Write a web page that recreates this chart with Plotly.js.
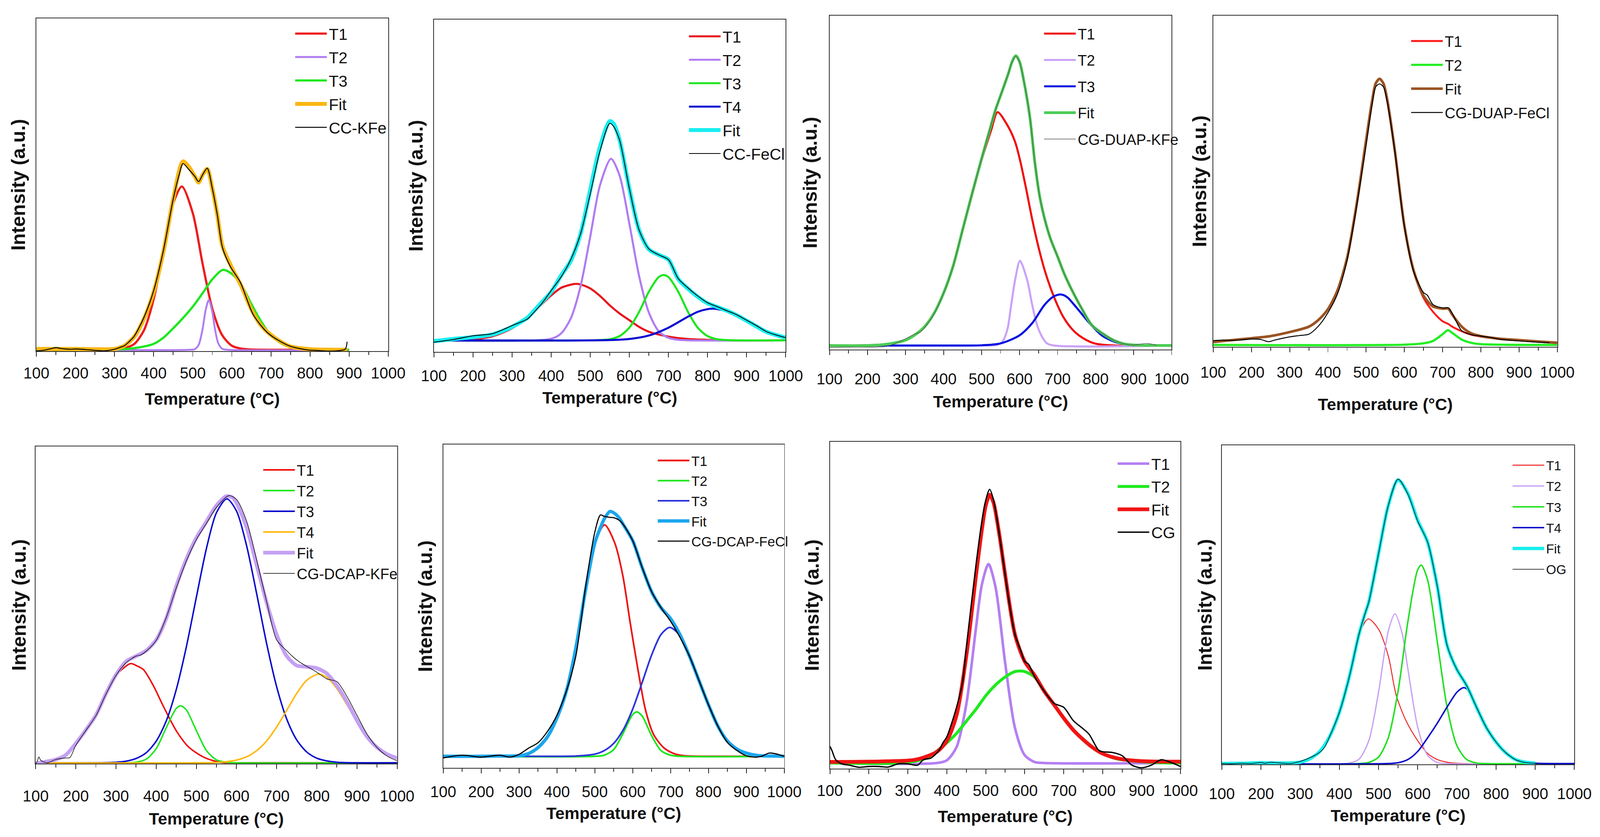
<!DOCTYPE html>
<html><head><meta charset="utf-8">
<script src="https://cdn.plot.ly/plotly-3.0.1.min.js"></script>
<style>html,body{margin:0;padding:0;background:#fff;overflow:hidden}#chart{position:absolute;left:0;top:0}</style>
</head><body><div id="chart"></div>
<script>
// ---------------- DATA (temperature in °C, intensity in arbitrary units) ----------------
const xTicks = [100,200,300,400,500,600,700,800,900,1000];
const xTickText = ['100','200','300','400','500','600','700','800','900','1000'];

// Panel 1: CC-KFe
const p1_x_data = [100,112,125,137,150,162,175,187,200,225,250,275,300,312,325,337,350,375,400,425,450,465,475,490,505,515,525,537,550,563,576,596,622,655,694,746,792,825,850,875,890,895];
const p1_data   = [-4,-3,0,4,8,5,3,2,3,1,-2,-4,2,8,15,30,50,120,220,370,560,650,692,670,645,625,650,675,600,500,380,310,250,130,60,15,0,-3,-5,-3,2,30];
const p1_x_fit  = [100,150,200,250,300,325,350,375,400,425,450,475,490,505,515,525,537,550,563,576,600,625,650,675,700,725,750,800,850,895];
const p1_fit    = [3,3,3,2,3,15,48,115,215,365,560,700,680,645,622,650,672,600,500,385,305,235,150,90,55,30,12,2,0,0];
const p1_x_t1   = [100,300,325,350,375,400,425,450,472,500,525,550,575,600,625,650,700,900];
const p1_t1     = [0,2,6,21,72,188,368,544,607,508,321,153,55,15,4,1,0,0];
const p1_x_t2   = [100,490,505,515,525,533,541,549,557,565,575,590,900];
const p1_t2     = [0,0,2,18,76,148,185,148,76,25,4,0,0];
const p1_x_t3   = [100,300,350,400,425,450,475,500,525,550,577,600,625,650,675,700,725,750,800,900];
const p1_t3     = [0,1,6,22,45,80,118,160,210,262,297,282,240,170,105,55,25,10,1,0];

// Panel 2: CC-FeCl
const p2_x      = [100,150,200,250,300,340,350,375,400,425,450,475,500,525,550,560,575,600,625,650,675,700,725,750,775,800,825,850,875,900,925,950,975,1000];
const p2_data   = [-7,3,17,25,55,80,95,135,185,235,300,395,545,705,807,795,745,565,410,340,318,300,230,195,165,140,125,110,95,75,55,33,20,10];
const p2_fit    = [-3,5,12,22,50,85,100,140,180,240,295,395,560,720,815,805,745,565,410,338,318,300,228,192,162,138,124,110,93,73,52,32,20,10];
const p2_x_t1   = [100,200,250,300,350,400,425,450,462,475,500,525,550,575,600,625,650,700,750,800,850,1000];
const p2_t1     = [0,4,15,45,100,167,195,207,210,208,193,165,130,100,75,50,32,14,5,2,0,0];
const p2_x_t2   = [100,400,425,450,475,500,525,553,575,600,625,650,675,700,725,750,1000];
const p2_t2     = [0,6,25,81,200,386,577,675,613,434,239,103,34,9,2,0,0];
const p2_x_t3   = [100,525,550,575,600,625,650,675,688,700,725,750,775,800,825,850,875,1000];
const p2_t3     = [0,1,4,16,47,106,181,235,243,235,181,106,47,16,4,1,0,0];
const p2_x_t4   = [100,550,600,650,700,750,775,800,815,850,875,900,925,950,975,1000];
const p2_t4     = [0,1,5,18,47,88,106,116,118,108,92,72,51,33,20,11];

// Panel 3: CG-DUAP-KFe
const p3_x_fit  = [100,200,250,300,325,350,375,400,425,450,475,500,525,535,550,570,580,590,600,611,627,640,653,666,682,699,718,738,764,790,823,850,875,900,1000];
const p3_fit    = [0,0,5,20,40,70,120,195,295,430,565,695,820,870,930,1010,1055,1078,1055,985,849,682,553,470,394,334,265,205,136,76,40,18,6,2,0];
const p3_x_data = [100,150,200,250,280,300,320,340,360,375,400,425,450,475,500,525,535,550,570,580,590,600,611,627,640,653,666,682,699,718,738,764,790,823,850,875,900,935,960];
const p3_data   = [-7,-6,-6,-3,12,25,40,52,85,118,195,295,430,565,695,820,870,930,1010,1053,1076,1053,985,849,682,553,470,394,334,265,205,136,76,40,18,6,2,8,1];
const p3_x_t1   = [100,250,300,350,375,400,425,450,475,500,525,542,568,588,601,617,633,650,666,682,699,715,738,764,797,850,1000];
const p3_t1     = [0,5,20,70,120,195,295,430,560,690,800,868,819,758,690,584,470,364,280,212,152,106,61,30,8,0,0];
const p3_x_t2   = [100,500,540,555,568,578,588,601,620,633,646,660,672,690,1000];
const p3_t2     = [0,0,2,15,61,152,243,315,243,152,76,30,8,0,0];
const p3_x_t3   = [100,450,500,550,600,633,666,690,708,725,748,784,816,850,875,900,1000];
const p3_t3     = [0,0,1,8,38,83,152,183,190,180,144,83,38,14,5,1,0];

// Panel 4: CG-DUAP-FeCl
const p4_x      = [100,150,200,250,300,350,375,400,425,450,475,500,515,525,535,545,555,575,600,625,650,675,700,715,725,750,775,800,850,900,950,1000];
const p4_fit    = [11,18,25,33,48,68,93,133,203,323,523,763,903,973,990,973,913,723,443,273,183,143,135,135,113,68,43,33,23,18,13,8];
const p4_t1     = [11,18,25,33,48,68,93,133,203,323,523,763,903,973,990,973,913,723,442,270,175,123,88,78,68,51,38,31,22,17,12,8];
const p4_x_t2   = [100,600,650,675,700,714,725,750,775,800,850,900,1000];
const p4_t2     = [0,1,6,15,40,55,45,20,8,3,1,0,0];
const p4_x_data = [100,125,150,175,200,225,245,260,300,325,350,375,400,425,450,475,500,515,525,535,545,555,575,600,625,650,660,675,700,715,725,750,775,800,825,850,900,950,980];
const p4_data   = [16,18,17,19,22,20,12,18,30,35,40,70,120,190,315,515,745,890,960,971,960,905,720,440,270,195,185,150,138,138,118,53,38,33,28,21,15,10,8];

// Panel 5: CG-DCAP-KFe
const p5_x      = [100,125,150,175,200,225,250,275,300,325,350,375,400,425,450,475,500,525,550,575,590,600,625,650,675,700,725,750,775,800,825,850,875,900,925,950,975,1000];
const p5_fit    = [-3,4,12,29,72,122,177,257,327,377,397,417,457,537,657,757,837,897,957,992,987,967,877,737,597,477,397,362,357,352,332,287,227,157,97,57,32,17];
const p5_x_data = [100,104,108,112,120,130,150,175,185,200,225,250,275,300,325,350,360,375,400,425,450,475,500,525,550,581,600,625,650,675,700,725,740,760,800,825,850,875,900,925,950,975,1000];
const p5_data   = [-3,5,22,10,3,0,12,18,19,65,120,175,255,325,372,397,400,415,455,540,650,750,830,890,950,994,980,900,757,600,457,417,395,372,337,312,302,247,177,107,57,25,7];
const p5_x_t1   = [100,125,150,175,200,225,250,275,300,336,350,368,393,419,451,482,521,559,600,1000];
const p5_t1     = [1,3,10,28,70,120,175,255,325,369,362,347,287,207,117,57,19,2,0,0];
const p5_x_t2   = [100,325,350,375,400,425,450,461,475,500,525,550,575,600,1000];
const p5_t2     = [0,0,2,13,52,130,202,212,197,120,46,11,2,0,0];
const p5_x_t3   = [100,250,300,325,350,375,400,425,450,475,500,525,550,576,600,625,650,675,700,725,750,775,800,825,850,900,1000];
const p5_t3     = [0,0,2,6,16,37,80,155,272,430,615,796,930,982,937,809,631,444,283,163,85,40,17,7,2,0,0];
const p5_x_t4   = [100,550,575,600,625,650,675,700,725,750,775,804,825,850,875,900,925,950,975,1000];
const p5_t4     = [0,1,4,10,22,45,81,133,195,258,307,330,318,276,216,152,96,55,28,13];

// Panel 6: CG-DCAP-FeCl
const p6_x      = [100,150,200,250,275,300,325,350,375,400,425,450,475,500,515,525,540,550,565,575,600,625,650,675,700,725,750,775,800,825,850,875,900,925,940,960,975,1000];
const p6_data   = [-6,4,-3,4,-3,7,30,50,92,152,242,372,622,832,897,892,888,887,877,862,802,702,612,552,502,442,372,282,192,112,52,22,2,-3,0,12,10,0];
const p6_fit    = [0,0,0,1,1,2,10,32,72,142,242,402,612,792,850,882,910,905,885,862,802,702,612,552,512,452,372,282,192,112,57,27,12,4,2,1,1,0];
const p6_x_t1   = [100,250,300,325,350,375,400,425,450,475,500,526,553,574,594,614,634,655,682,709,736,800,1000];
const p6_t1     = [0,0,2,10,30,70,140,240,400,610,790,860,792,672,492,322,172,82,32,10,2,0,0];
const p6_x_t2   = [100,500,525,550,575,600,611,625,650,675,700,725,1000];
const p6_t2     = [0,0,4,25,86,155,165,150,77,21,4,0,0];
const p6_x_t3   = [100,400,450,500,525,550,575,600,625,650,675,698,725,750,775,800,825,850,875,900,925,950,1000];
const p6_t3     = [0,0,1,8,21,48,98,175,274,376,453,479,449,377,283,190,114,61,30,13,5,2,0];

// Panel 7: CG
const p7_x_fit  = [100,200,300,325,350,375,400,425,450,475,490,500,510,520,535,550,575,600,625,650,675,700,725,750,775,800,825,850,900,1000];
const p7_fit    = [4,5,9,14,25,42,82,177,397,697,867,957,997,967,847,697,477,377,327,267,217,167,122,87,57,35,22,14,7,5];
const p7_x_data = [100,105,115,130,150,175,200,225,250,275,300,325,340,360,380,390,400,410,425,440,450,475,490,500,510,520,535,550,560,575,590,600,610,625,650,675,700,725,750,765,790,800,825,850,875,900,925,950,975,1000];
const p7_data   = [62,47,12,-3,-8,-16,-13,-13,-15,-3,-3,-8,12,19,47,75,97,137,207,297,427,737,897,977,1017,977,847,697,597,477,417,377,367,322,267,222,207,157,127,107,47,42,39,27,-8,-18,-8,12,2,-13];
const p7_x_t1   = [100,375,400,425,450,475,490,507,525,550,575,600,625,650,1000];
const p7_t1     = [0,0,10,59,218,503,663,739,654,369,130,29,4,0,0];
const p7_x_t2   = [100,300,350,375,400,425,450,475,500,525,550,575,588,600,625,650,675,700,725,750,775,800,825,850,900,950,1000];
const p7_t2     = [0,2,20,45,75,110,155,200,250,290,320,340,342,340,320,267,217,167,122,87,57,35,20,12,5,1,0];

// Panel 8: OG
const p8_x_fit  = [100,150,200,250,300,325,350,375,400,425,450,465,475,500,525,550,575,600,625,650,675,700,725,750,775,800,825,850,875,900];
const p8_fit    = [0,1,3,2,5,18,45,100,190,320,480,555,600,780,960,1055,1005,905,825,660,440,350,290,210,135,80,40,15,5,2];
const p8_x_data = [100,125,150,175,200,210,225,250,275,300,312,325,337,350,362,375,400,425,450,465,475,500,525,550,575,600,625,650,675,700,725,750,775,800,825,850,862,875,887,900,905];
const p8_data   = [0,-1,1,0,4,1,5,2,0,8,14,22,30,42,60,100,190,320,480,555,600,780,960,1058,1002,902,825,660,440,350,290,210,135,80,40,14,8,4,2,1,0];
const p8_x_t1   = [100,300,325,350,375,400,425,450,474,500,525,545,570,600,625,650,675,700,1000];
const p8_t1     = [0,5,18,45,100,190,320,480,538,500,400,255,160,85,38,15,5,1,0];
const p8_x_t2   = [100,425,450,475,500,525,542,560,575,600,625,650,675,1000];
const p8_t2     = [0,2,16,84,265,493,557,486,352,136,31,4,0,0];
const p8_x_t3   = [100,450,475,500,525,550,575,600,609,625,650,675,700,725,750,775,1000];
const p8_t3     = [0,0,4,24,96,270,528,721,738,685,454,210,67,15,2,0,0];
const p8_x_t4   = [100,525,550,575,600,625,650,675,700,716,725,750,775,800,825,850,875,900,1000];
const p8_t4     = [0,0,3,15,45,95,150,210,265,282,278,215,140,80,40,15,5,1,0];

// ---------------- LAYOUT / STYLE ----------------
// reference frame is 4307 x 2143; everything is scaled to the real viewport
const RW = 4307, RH = 2143;
const VW = window.innerWidth || RW, VH = window.innerHeight || RH;
const sx = VW / RW, sy = VH / RH, S = Math.min(sx, sy), FS = Math.sqrt(sx * sy);
const FONT = 'Liberation Sans, Arial, Helvetica, sans-serif';
document.getElementById('chart').style.width = VW + 'px';
document.getElementById('chart').style.height = VH + 'px';

// plot-area boxes in reference pixels: [left, right, top, bottom]
const panels = [
  {box:[98,1045,47,899],     yr:[-5,1232],  tickStand:8,  titleStand:30, yStand:11, legend:{text:885,  row:86,   size:42, step:60}},
  {box:[1168,2115,50,901],   yr:[-43,1193], tickStand:13, titleStand:20, yStand:11, legend:{text:1945, row:93,   size:42, step:60}},
  {box:[2233,3154,40,895],   yr:[-15,1227], tickStand:27, titleStand:22, yStand:15, legend:{text:2901, row:86,   size:39, step:67.5}},
  {box:[3266,4192,40,888],   yr:[-7,1225],  tickStand:17, titleStand:46, yStand:0,  legend:{text:3889, row:105,  size:39, step:61}},
  {box:[96,1069,1143,1955],  yr:[-3,1177],  tickStand:35, titleStand:22, yStand:7,  legend:{text:799,  row:1203, size:39, step:53}},
  {box:[1193,2111,1138,1966],yr:[-43,1159], tickStand:13, titleStand:19, yStand:11, legend:{text:1861, row:1179, size:36, step:51.6}},
  {box:[2234,3178,1131,1968],yr:[-21,1194], tickStand:8,  titleStand:30, yStand:11, legend:{text:3099, row:1187, size:42, step:58.5}},
  {box:[3289,4238,1140,1957],yr:[-3,1184],  tickStand:27, titleStand:20, yStand:8,  legend:{text:4162, row:1191, size:34, step:53.3}}
];

const ITEMW = Math.max(30, Math.round(85 * sx));
const traces = [];
function add(p, x, y, name, color, width) {
  const i = p + 1;
  traces.push({
    type: 'scatter', mode: 'lines', x: x, y: y, name: name,
    xaxis: i === 1 ? 'x' : 'x' + i, yaxis: i === 1 ? 'y' : 'y' + i,
    legend: i === 1 ? 'legend' : 'legend' + i, legendgroup: 'g' + i + name,
    line: {color: color, width: width * S, shape: 'spline', smoothing: 0.8},
    hoverinfo: 'skip'
  });
}

// Panel 1
add(0, p1_x_t1, p1_t1, 'T1', '#ee1c1c', 6);
add(0, p1_x_t2, p1_t2, 'T2', '#b07cf2', 5);
add(0, p1_x_t3, p1_t3, 'T3', '#1ee61e', 6);
add(0, p1_x_fit, p1_fit, 'Fit', '#fbb714', 11);
add(0, p1_x_data, p1_data, 'CC-KFe', '#000000', 2.5);
// Panel 2
add(1, p2_x_t1, p2_t1, 'T1', '#e8141c', 5.5);
add(1, p2_x_t2, p2_t2, 'T2', '#b07cf2', 5.5);
add(1, p2_x_t3, p2_t3, 'T3', '#1ee61e', 5.5);
add(1, p2_x_t4, p2_t4, 'T4', '#0a0ad2', 5.5);
add(1, p2_x, p2_fit, 'Fit', '#18eef2', 11);
add(1, p2_x, p2_data, 'CC-FeCl', '#000000', 2.2);
// Panel 3
add(2, p3_x_t1, p3_t1, 'T1', '#f00a0a', 5.5);
add(2, p3_x_t2, p3_t2, 'T2', '#caa2f8', 5.5);
add(2, p3_x_t3, p3_t3, 'T3', '#0010e0', 5.5);
add(2, p3_x_fit, p3_fit, 'Fit', '#4ccc55', 7.5);
add(2, p3_x_data, p3_data, 'CG-DUAP-KFe', '#555555', 1.5);
// Panel 4
add(3, p4_x, p4_t1, 'T1', '#ff1a1a', 5);
add(3, p4_x_t2, p4_t2, 'T2', '#22ee22', 6);
add(3, p4_x, p4_fit, 'Fit', '#9a5322', 7);
add(3, p4_x_data, p4_data, 'CG-DUAP-FeCl', '#000000', 2.5);
// Panel 5
add(4, p5_x_t1, p5_t1, 'T1', '#ee0a0a', 4);
add(4, p5_x_t2, p5_t2, 'T2', '#1ee61e', 4);
add(4, p5_x_t3, p5_t3, 'T3', '#0a0acc', 4);
add(4, p5_x_t4, p5_t4, 'T4', '#ffb808', 4);
add(4, p5_x, p5_fit, 'Fit', '#c4a0f4', 10);
add(4, p5_x_data, p5_data, 'CG-DCAP-KFe', '#000000', 1.5);
// Panel 6
add(5, p6_x_t1, p6_t1, 'T1', '#ee1212', 4.5);
add(5, p6_x_t2, p6_t2, 'T2', '#1ee61e', 4.5);
add(5, p6_x_t3, p6_t3, 'T3', '#2c35dc', 4.5);
add(5, p6_x, p6_fit, 'Fit', '#1aa6ee', 9);
add(5, p6_x, p6_data, 'CG-DCAP-FeCl', '#000000', 3);
// Panel 7
add(6, p7_x_t1, p7_t1, 'T1', '#b47ff2', 7);
add(6, p7_x_t2, p7_t2, 'T2', '#1eea1e', 8);
add(6, p7_x_fit, p7_fit, 'Fit', '#f01414', 10);
add(6, p7_x_data, p7_data, 'CG', '#000000', 3.5);
// Panel 8
add(7, p8_x_t1, p8_t1, 'T1', '#ee1c1c', 2.5);
add(7, p8_x_t2, p8_t2, 'T2', '#c8a2f4', 3.5);
add(7, p8_x_t3, p8_t3, 'T3', '#1ee11e', 4);
add(7, p8_x_t4, p8_t4, 'T4', '#0a0ac8', 4);
add(7, p8_x_fit, p8_fit, 'Fit', '#18eeee', 9);
add(7, p8_x_data, p8_data, 'OG', '#000000', 1.6);

const layout = {
  width: VW, height: VH, margin: {l:0, r:0, t:0, b:0},
  paper_bgcolor: '#ffffff', plot_bgcolor: '#ffffff',
  font: {family: FONT, color: '#111111'},
  showlegend: true
};

panels.forEach((p, k) => {
  const i = k + 1;
  const xs = i === 1 ? '' : String(i);
  const [l, r, t, b] = p.box;
  layout['xaxis' + xs] = {
    domain: [l / RW, r / RW], anchor: 'y' + xs,
    range: [100, 1000], tickmode: 'array', tickvals: xTicks, ticktext: xTickText,
    ticks: 'outside', ticklen: 12 * sy, tickwidth: 2 * S, tickcolor: '#222',
    ticklabelstandoff: p.tickStand * sy,
    minor: {tickmode: 'linear', tick0: 150, dtick: 100, ticks: 'outside', ticklen: 8 * sy, tickwidth: 2 * S, tickcolor: '#222', showgrid: false},
    showline: true, linecolor: '#2a2a2a', linewidth: 2 * S, mirror: true,
    showgrid: false, zeroline: false, fixedrange: true,
    tickfont: {family: FONT, size: 41 * FS, color: '#111'},
    title: {text: 'Temperature (°C)', standoff: p.titleStand * sy, font: {family: FONT, size: 44 * FS, color: '#111', weight: 'bold'}}
  };
  layout['yaxis' + xs] = {
    domain: [1 - b / RH, 1 - t / RH], anchor: 'x' + xs,
    range: p.yr, showticklabels: false, ticks: '',
    showline: true, linecolor: '#2a2a2a', linewidth: 2 * S, mirror: true,
    showgrid: false, zeroline: false, fixedrange: true,
    title: {text: 'Intensity (a.u.)', standoff: p.yStand * sx, font: {family: FONT, size: 51 * FS, color: '#111', weight: 'bold'}}
  };
  const L = p.legend;
  const fs = L.size * FS;
  const itemH = fs * 1.3 + 3;
  layout[i === 1 ? 'legend' : 'legend' + i] = {
    x: (L.text * sx - 10 - ITEMW) / VW, xanchor: 'left',
    y: 1 - (L.row * sy - itemH / 2 - 5) / VH, yanchor: 'top',
    bgcolor: 'rgba(0,0,0,0)', borderwidth: 0,
    traceorder: 'grouped', tracegroupgap: Math.max(0, L.step * sy - itemH),
    itemwidth: ITEMW,
    font: {family: FONT, size: fs, color: '#111'}
  };
});

Plotly.newPlot('chart', traces, layout, {staticPlot: true, displayModeBar: false});
</script>
</body></html>
